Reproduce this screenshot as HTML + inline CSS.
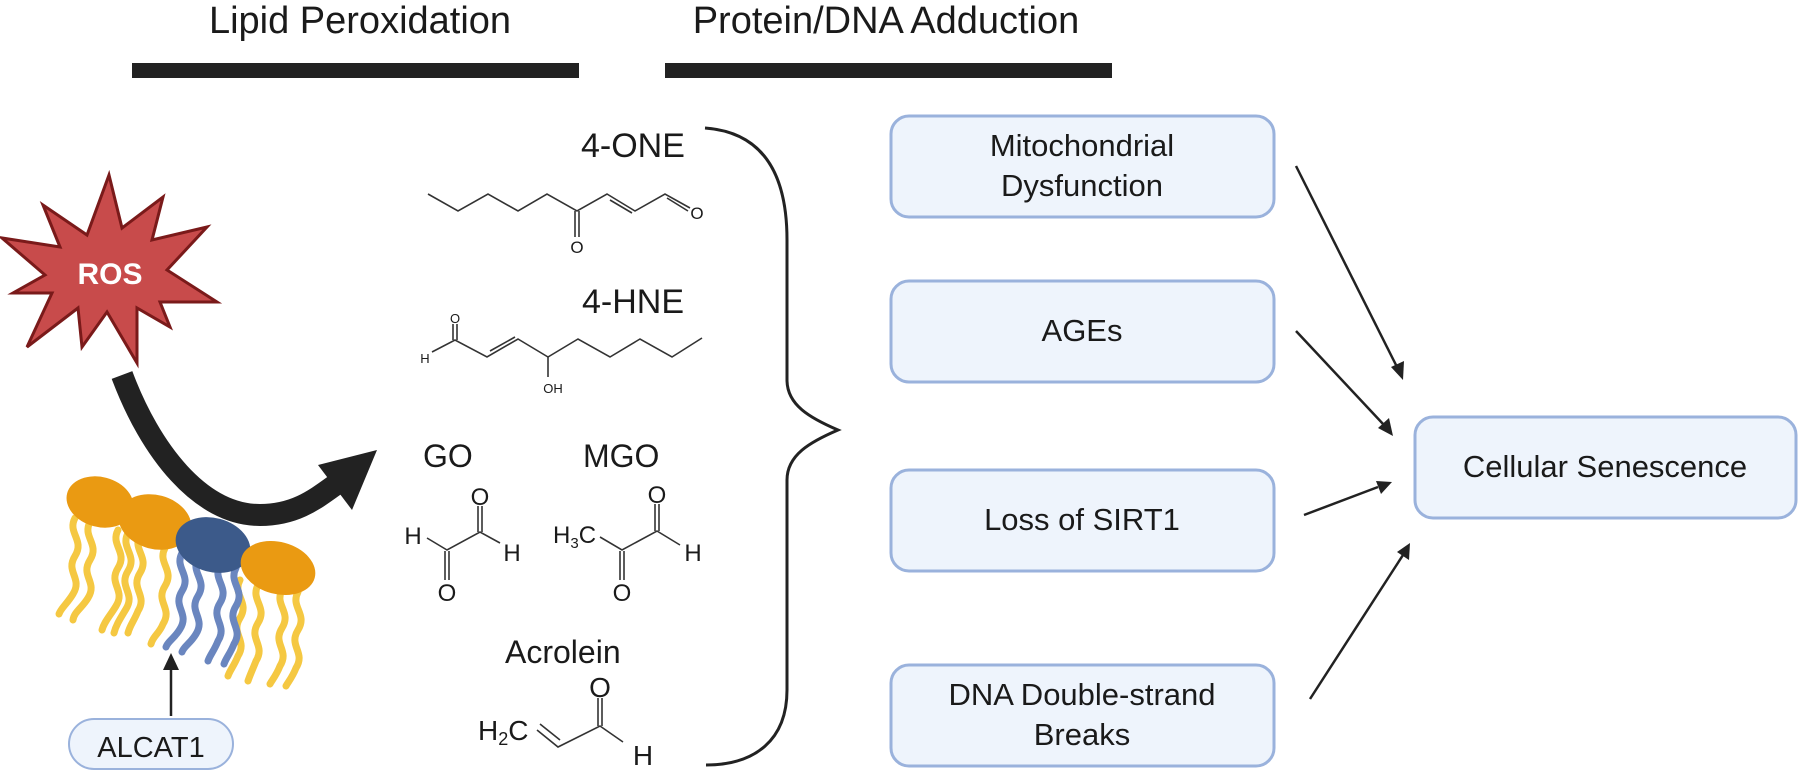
<!DOCTYPE html>
<html><head><meta charset="utf-8"><style>
html,body{margin:0;padding:0;background:#fff}
svg{display:block}
text{font-family:"Liberation Sans",sans-serif;fill:#1a1a1a}
.m{stroke:#333;stroke-width:1.6;fill:none}
.s{font-size:17px}
</style></head><body>
<svg width="1800" height="772" viewBox="0 0 1800 772" xmlns="http://www.w3.org/2000/svg">
<text x="360" y="33" font-size="38" text-anchor="middle">Lipid Peroxidation</text>
<text x="886" y="33" font-size="38" text-anchor="middle">Protein/DNA Adduction</text>
<rect x="132" y="63" width="447" height="15" fill="#222"/>
<rect x="665" y="63" width="447" height="15" fill="#222"/>

<!-- ROS star -->
<polygon fill="#c84b4b" stroke="#7a1a1a" stroke-width="3" points="109,175 122,228 163,197 152,240 207,227 167,270 217,302 160,302 170,327 137,308 137,363 107,312 82,347 78,308 27,347 52,293 13,293 45,275 2,238 60,247 43,205 87,235"/>
<text x="110" y="284" font-size="30" font-weight="bold" text-anchor="middle" style="fill:#fff">ROS</text>

<!-- curved arrow -->
<path d="M122,375 C150,450 200,515 260,515 C300,515 320,495 345,478" stroke="#222" stroke-width="22" fill="none"/>
<polygon points="377,450 318,465 352,510" fill="#222"/>

<!-- lipid tails -->
<g fill="none" stroke-width="7" stroke-linecap="round">
<g stroke="#f5c842">
<path d="M75,518 c-8,15 10,22 0,38 c-10,16 8,22 -2,38 c-6,10 -12,14 -14,20"/>
<path d="M90,522 c-8,15 10,22 0,38 c-10,16 8,22 -2,38 c-6,10 -14,14 -15,22"/>
<path d="M118,530 c-8,15 10,22 0,38 c-10,16 8,22 -2,38 c-6,10 -12,16 -14,24"/>
<path d="M128,533 c-8,15 10,22 0,38 c-10,16 8,22 -2,38 c-6,10 -10,16 -12,24"/>
<path d="M140,535 c-8,15 10,22 0,38 c-10,16 8,22 -2,38 c-4,10 -8,14 -10,22"/>
<path d="M165,548 c-8,15 10,22 0,38 c-10,16 8,22 -2,38 c-4,10 -10,12 -12,20"/>
<path d="M240,580 c-8,15 10,22 0,38 c-10,16 8,22 -2,38 c-4,10 -8,14 -10,20"/>
<path d="M258,585 c-8,15 10,22 0,38 c-10,16 8,22 -2,38 c-4,10 -6,14 -8,20"/>
<path d="M282,590 c-8,15 10,22 0,38 c-10,16 8,22 -2,38 c-4,10 -8,14 -10,18"/>
<path d="M298,592 c-8,15 10,22 0,38 c-10,16 8,22 -2,38 c-4,10 -8,14 -10,18"/>
</g>
<g stroke="#6a86bf">
<path d="M182,553 c-8,15 10,22 0,38 c-10,16 8,22 -2,38 c-6,10 -12,12 -14,18"/>
<path d="M198,558 c-8,15 10,22 0,38 c-10,16 8,22 -2,38 c-6,10 -12,12 -14,18"/>
<path d="M220,565 c-8,15 10,22 0,38 c-10,16 8,22 -2,38 c-4,10 -8,14 -10,20"/>
<path d="M236,568 c-8,15 10,22 0,38 c-10,16 8,22 -2,38 c-4,10 -8,14 -10,20"/>
</g>
</g>
<ellipse cx="100" cy="502" rx="34" ry="25" transform="rotate(15 100 502)" fill="#ea9a12"/>
<ellipse cx="155" cy="522" rx="37" ry="27" transform="rotate(15 155 522)" fill="#ea9a12"/>
<ellipse cx="213" cy="545" rx="38" ry="27" transform="rotate(15 213 545)" fill="#3c5a8a"/>
<ellipse cx="278" cy="568" rx="38" ry="26" transform="rotate(15 278 568)" fill="#ea9a12"/>

<!-- ALCAT1 -->
<line x1="171" y1="716" x2="171" y2="668" stroke="#222" stroke-width="2.5"/>
<polygon points="171,653 163,670 179,670" fill="#222"/>
<rect x="69" y="719" width="164" height="50" rx="25" fill="#eef4fc" stroke="#9ab2dc" stroke-width="2"/>
<text x="151" y="757" font-size="29" text-anchor="middle">ALCAT1</text>

<!-- 4-ONE -->
<text x="581" y="157" font-size="34">4-ONE</text>
<polyline class="m" points="428,194 458,211 488,194 518,211 547,194 577,211 607,194 635,211 665,194 690,208"/>
<line class="m" x1="610" y1="200" x2="632" y2="213"/>
<line class="m" x1="667" y1="198" x2="688" y2="211"/>
<line class="m" x1="575" y1="211" x2="575" y2="237"/><line class="m" x1="579" y1="211" x2="579" y2="237"/>
<text x="577" y="253" class="s" text-anchor="middle">O</text>
<text x="697" y="219" class="s" text-anchor="middle">O</text>

<!-- 4-HNE -->
<text x="582" y="313" font-size="34">4-HNE</text>
<polyline class="m" points="432,352 455,340 487,357 518,339 548,357 578,339 610,357 640,339 672,357 702,338"/>
<line class="m" x1="490" y1="351" x2="515" y2="337"/>
<line class="m" x1="453" y1="340" x2="453" y2="324"/><line class="m" x1="457" y1="340" x2="457" y2="324"/>
<text x="455" y="323" font-size="13" text-anchor="middle">O</text>
<text x="425" y="363" font-size="13" text-anchor="middle">H</text>
<line class="m" x1="548" y1="357" x2="548" y2="377"/>
<text x="553" y="393" font-size="13" text-anchor="middle">OH</text>

<!-- GO -->
<text x="423" y="467" font-size="32">GO</text>
<text x="413" y="544" font-size="24" text-anchor="middle">H</text>
<polyline class="m" points="427,538 447,550 480,532 500,543"/>
<line class="m" x1="445" y1="551" x2="445" y2="580"/><line class="m" x1="449" y1="551" x2="449" y2="580"/>
<line class="m" x1="478" y1="532" x2="478" y2="506"/><line class="m" x1="482" y1="532" x2="482" y2="506"/>
<text x="447" y="601" font-size="24" text-anchor="middle">O</text>
<text x="480" y="505" font-size="24" text-anchor="middle">O</text>
<text x="512" y="561" font-size="24" text-anchor="middle">H</text>

<!-- MGO -->
<text x="583" y="467" font-size="32">MGO</text>
<text x="553" y="543" font-size="24">H<tspan font-size="15" dy="5">3</tspan><tspan dy="-5">C</tspan></text>
<polyline class="m" points="600,537 622,550 657,531 680,545"/>
<line class="m" x1="620" y1="551" x2="620" y2="580"/><line class="m" x1="624" y1="551" x2="624" y2="580"/>
<line class="m" x1="655" y1="531" x2="655" y2="504"/><line class="m" x1="659" y1="531" x2="659" y2="504"/>
<text x="622" y="601" font-size="24" text-anchor="middle">O</text>
<text x="657" y="503" font-size="24" text-anchor="middle">O</text>
<text x="693" y="561" font-size="24" text-anchor="middle">H</text>

<!-- Acrolein -->
<text x="505" y="663" font-size="32">Acrolein</text>
<text x="478" y="740" font-size="28">H<tspan font-size="18" dy="5">2</tspan><tspan dy="-5">C</tspan></text>
<polyline class="m" points="537,730 558,747 600,726 623,742"/>
<line class="m" x1="540" y1="724" x2="560" y2="740"/>
<line class="m" x1="598" y1="726" x2="598" y2="698"/><line class="m" x1="602" y1="726" x2="602" y2="698"/>
<text x="600" y="697" font-size="28" text-anchor="middle">O</text>
<text x="643" y="765" font-size="28" text-anchor="middle">H</text>

<!-- brace -->
<path d="M705,128 C760,132 787,170 787,240 L787,380 C787,405 810,418 838,430 C810,442 787,455 787,480 L787,690 C787,740 755,765 706,765" fill="none" stroke="#222" stroke-width="3"/>

<!-- boxes -->
<g fill="#eef4fc" stroke="#9ab2dc" stroke-width="3">
<rect x="891" y="116" width="383" height="101" rx="18"/>
<rect x="891" y="281" width="383" height="101" rx="18"/>
<rect x="891" y="470" width="383" height="101" rx="18"/>
<rect x="891" y="665" width="383" height="101" rx="18"/>
<rect x="1415" y="417" width="381" height="101" rx="18"/>
</g>
<g font-size="31" text-anchor="middle">
<text x="1082" y="156">Mitochondrial</text>
<text x="1082" y="196">Dysfunction</text>
<text x="1082" y="341">AGEs</text>
<text x="1082" y="530">Loss of SIRT1</text>
<text x="1082" y="705">DNA Double-strand</text>
<text x="1082" y="745">Breaks</text>
<text x="1605" y="477">Cellular Senescence</text>
</g>

<!-- arrows -->
<g stroke="#222" stroke-width="2.5">
<line x1="1296" y1="166" x2="1397" y2="367"/>
<line x1="1296" y1="331" x2="1384" y2="425"/>
<line x1="1304" y1="515" x2="1378" y2="487"/>
<line x1="1310" y1="699" x2="1403" y2="555"/>
</g>
<g fill="#222">
<polygon points="1403,380 1391,367 1404,361"/>
<polygon points="1393,436 1378,428 1389,418"/>
<polygon points="1392,482 1381,494 1376,481"/>
<polygon points="1410,543 1409,560 1397,552"/>
</g>
</svg>
</body></html>
